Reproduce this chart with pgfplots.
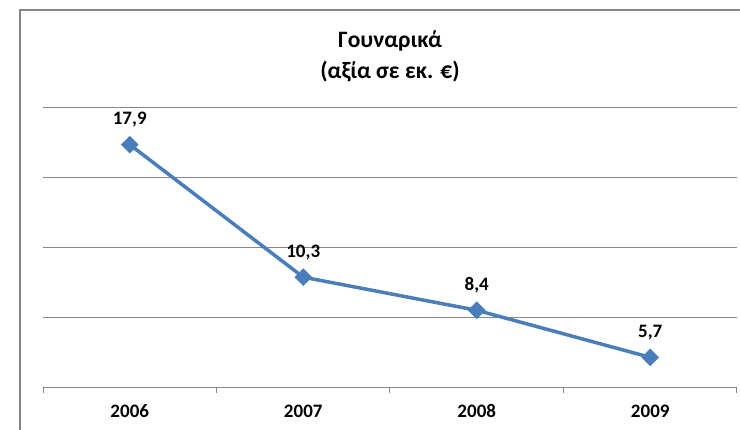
\documentclass[border=0pt]{standalone}
\usepackage{fontspec}
\setmainfont{Carlito}
\usepackage{pgfplots}
\pgfplotsset{compat=1.18}
\definecolor{lineblue}{HTML}{4A7EBB}
\definecolor{gridgray}{HTML}{868686}
\begin{document}
\begin{tikzpicture}[x=1pt,y=1pt]
\clip (0,0) rectangle (740,429);
\fill[white] (0,0) rectangle (740,429);
\draw[gridgray, line width=1.5pt] (20,-10) -- (20,419) -- (760,419);
\node[font=\bfseries\fontsize{23.5}{23.5}\selectfont, anchor=base, inner sep=0pt] at (390,381) {Γουναρικά};
\node[font=\bfseries\fontsize{23.5}{23.5}\selectfont, anchor=base, inner sep=0pt] at (390,350) {(αξία σε εκ. €)};
\begin{axis}[
  at={(43pt,42pt)}, anchor=south west,
  scale only axis, width=694pt, height=279pt,
  xmin=-0.5, xmax=3.5, ymin=4, ymax=20,
  axis x line*=bottom, axis y line*=left,
  y axis line style={draw=none},
  x axis line style={gridgray, line width=1pt, -},
  ytick={4,8,12,16,20}, yticklabels={}, ymajorgrids,
  major grid style={gridgray, line width=1pt},
  xtick={0,1,2,3},
  xticklabels={\textbf{2006},\textbf{2007},\textbf{2008},\textbf{2009}},
  major tick length=0pt,
  minor xtick={-0.5,0.5,1.5,2.5,3.5},
  minor tick length=6pt, xtick align=outside,
  minor tick style={gridgray, line width=1pt},
  xticklabel style={font=\bfseries\fontsize{19}{19}\selectfont, anchor=base, inner sep=0pt, yshift=-30pt},
  clip=false,
]
\addplot[lineblue, line width=3.5pt, mark=square*, mark size=6pt,
  mark options={solid, rotate=45, fill=lineblue, draw=lineblue, line width=0.5pt},
  nodes near coords, point meta=explicit symbolic,
  every node near coord/.append style={font=\bfseries\fontsize{19}{19}\selectfont, text=black, anchor=base, inner sep=0pt, yshift=20pt}]
table[meta=lab] {
x y lab
0 17.9 17,9
1 10.3 10,3
2 8.4 8,4
3 5.7 5,7
};
\end{axis}
\end{tikzpicture}
\end{document}
